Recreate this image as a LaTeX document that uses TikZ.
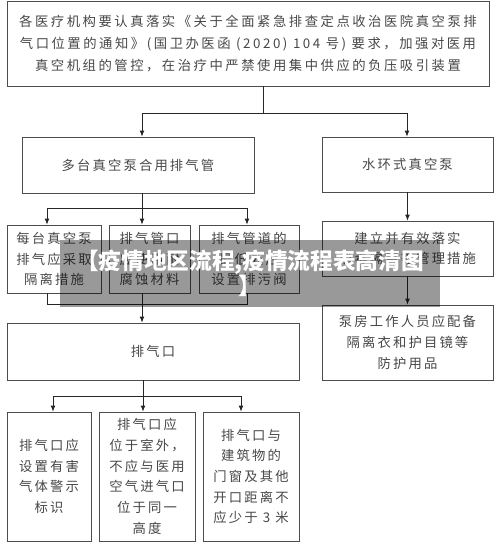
\documentclass[tikz,border=0pt]{standalone}
\usepackage{fontspec}
\setmainfont{Noto Sans CJK SC}
\newfontfamily\boxfont{Noto Sans CJK SC}[LetterSpace=16]
\newfontfamily\noticefont{Noto Sans CJK SC}[LetterSpace=19]
\usetikzlibrary{arrows.meta}

\begin{document}
\begin{tikzpicture}[x=0.75pt,y=-0.75pt,
  box/.style={draw=black!70,line width=0.6pt,inner sep=0pt,align=center,text=black!72,
    font=\boxfont\fontsize{10}{15.5}\selectfont},
  link/.style={draw=black!85,line width=0.6pt},
  arr/.style={link,-{Latex[length=4.5pt,width=3.6pt]}}]
  \useasboundingbox (0,0) rectangle (500,547);

  \node[box,minimum width=361.5pt,minimum height=63.75pt,font=\noticefont\fontsize{10}{16.5}\selectfont] (notice) at (248,43.5)
    {各医疗机构要认真落实《关于全面紧急排查定点收治医院真空泵排\\气口位置的通知》(国卫办医函 (2020) 104 号) 要求，加强对医用\\真空机组的管控，在治疗中严禁使用集中供应的负压吸引装置};
  \node[box,minimum width=174pt,minimum height=42pt] (multi) at (138,165) {多台真空泵合用排气管};
  \node[box,minimum width=128.25pt,minimum height=41.25pt] (pump) at (407.5,164.5) {水环式真空泵};
  \node[box,minimum width=70.5pt,minimum height=51pt] (isolate) at (54,259) {每台真空泵\\排气应采取\\隔离措施};
  \node[box,minimum width=60.75pt,minimum height=51pt] (material) at (149.5,259) {排气管口\\应使用耐\\腐蚀材料};
  \node[box,minimum width=75pt,minimum height=51pt] (drain) at (249,259) {排气管道的\\最低处应\\设置排污阀};
  \node[box,minimum width=128.25pt,minimum height=41.25pt] (manage) at (407.5,248.5) {建立并有效落实\\消毒隔离等管理措施};
  \node[box,minimum width=128.25pt,minimum height=56.25pt] (staff) at (407.5,342.5) {泵房工作人员应配备\\隔离衣和护目镜等\\防护用品};
  \node[box,minimum width=219pt,minimum height=42.75pt] (outlet) at (153,351.5) {排气口};
  \node[box,minimum width=63pt,minimum height=96.75pt] (alarm) at (49,476.5) {排气口应\\设置有害\\气体警示\\标识};
  \node[box,minimum width=72pt,minimum height=96.75pt] (outdoor) at (147,476.5) {排气口应\\位于室外，\\不应与医用\\空气进气口\\位于同一\\高度};
  \node[box,minimum width=72pt,minimum height=96.75pt] (distance) at (251,476.5) {排气口与\\建筑物的\\门窗及其他\\开口距离不\\应少于 3 米};

  \coordinate (split) at (263,113);
  \coordinate (splitl) at (142,113);
  \coordinate (splitr) at (407,113);
  \draw[link] (split |- notice.south) -- (split);
  \draw[link] (splitl) -- (splitr);
  \draw[arr] (splitl) -- (splitl |- multi.north);
  \draw[arr] (splitr) -- (splitr |- pump.north);
  \draw[arr] (pump.south) -- (manage.north);
  \draw[arr] (manage.south) -- (staff.north);

  \coordinate (pipel) at (47,208);
  \coordinate (pipem) at (142,208);
  \coordinate (piper) at (247,208);
  \draw[link] (pipem |- multi.south) -- (pipem);
  \draw[link] (pipel) -- (piper);
  \draw[arr] (pipel) -- (pipel |- isolate.north);
  \draw[arr] (pipem) -- (pipem |- material.north);
  \draw[arr] (piper) -- (piper |- drain.north);

  \coordinate (mergel) at (47,304);
  \coordinate (merger) at (247,304);
  \draw[link] (mergel |- isolate.south) -- (mergel) -- (merger) -- (merger |- drain.south);
  \draw[arr] (pipem |- material.south) -- (pipem |- outlet.north);

  \coordinate (ventl) at (53,396);
  \coordinate (ventm) at (143,396);
  \coordinate (ventr) at (241,396);
  \draw[link] (ventm |- outlet.south) -- (ventm);
  \draw[link] (ventl) -- (ventr);
  \draw[arr] (ventl) -- (ventl |- alarm.north);
  \draw[arr] (ventm) -- (ventm |- outdoor.north);
  \draw[arr] (ventr) -- (ventr |- distance.north);

  \node[fill=black,fill opacity=0.4,text opacity=1,text=white,minimum width=285pt,minimum height=50.25pt,
    inner sep=0pt,align=center,font=\bfseries\fontsize{17}{19}\selectfont] (banner) at (250,273.5)
    {【疫情地区流程,疫情流程表高清图\\】};
\end{tikzpicture}
\end{document}
